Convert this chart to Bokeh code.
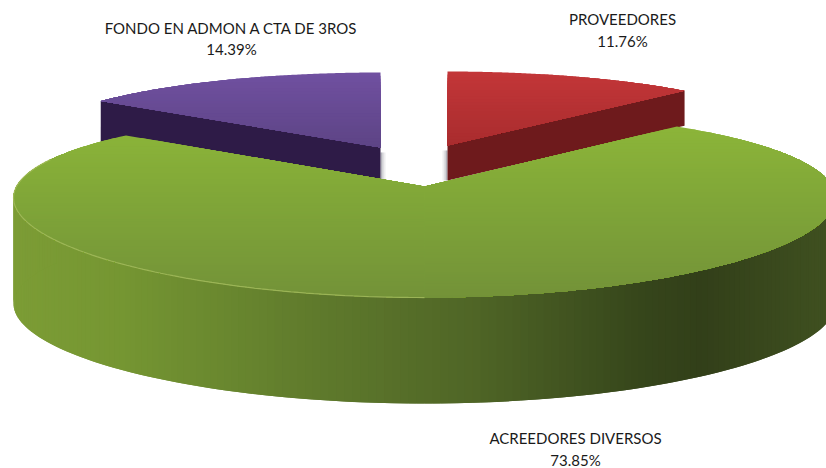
import numpy as np
from bokeh.plotting import figure
from bokeh.models import Range1d, ColumnDataSource
from bokeh.core.properties import value
from bokeh.embed import file_html
from bokeh.resources import INLINE

# data
categories = ["PROVEEDORES", "ACREEDORES DIVERSOS", "FONDO EN ADMON A CTA DE 3ROS"]
shares = [11.76, 73.85, 14.39]

# scene (pixel space, y down)
W, H = 826, 468
RED, GREEN, BLUE = 0, 1, 2
cum = np.cumsum([0] + shares) / sum(shares) * 2 * np.pi
geom = {
    RED:   dict(cx=447, cy=145, A=352, B=74, kx=0.0, ky=0.0, d=35),
    GREEN: dict(cx=424, cy=186, A=408, B=91.6, kx=0.12, ky=0.175, d=106),
    BLUE:  dict(cx=380, cy=147, A=356, B=75, kx=0.0, ky=0.0, d=42),
}

def pt(g, t):
    u, v = np.sin(t), np.cos(t)
    return g["cx"] + g["A"] * u / (1 + g["kx"] * v), g["cy"] - g["B"] * v / (1 + g["ky"] * v)

def mix(stops, x):
    xs = [s[0] for s in stops]
    rgb = [np.interp(x, xs, [int(s[1][i:i + 2], 16) for s in stops]) for i in (1, 3, 5)]
    return "#%02x%02x%02x" % tuple(int(round(c)) for c in rgb)

def clip_below(poly, y0):
    out = []
    for i in range(len(poly)):
        a, b = poly[i], poly[(i + 1) % len(poly)]
        ia, ib = a[1] >= y0, b[1] >= y0
        if ia:
            out.append(a)
        if ia != ib:
            f = (y0 - a[1]) / (b[1] - a[1])
            out.append((a[0] + f * (b[0] - a[0]), y0))
    return out

def arc_poly(i, t0, t1):
    g = geom[i]
    ts = np.linspace(t0, t1, 160)
    return [(g["cx"], g["cy"])] + [pt(g, t) for t in ts]

def add_grad(xs, ys, cs, poly, stops, n=40):
    yy = [q[1] for q in poly]
    edges = np.linspace(min(yy), max(yy), n + 1)[:-1]
    step = edges[1] - edges[0]
    for a in edges:
        part = clip_below(poly, a)
        if len(part) >= 3:
            xs.append([q[0] for q in part])
            ys.append([q[1] for q in part])
            cs.append(mix(stops, a + step / 2))

def add_wall(xs, ys, cs, i, t, color):
    g = geom[i]
    x1, y1 = g["cx"], g["cy"]
    x2, y2 = pt(g, t)
    xs.append([x1, x2, x2, x1])
    ys.append([y1, y2, y2 + g["d"], y1 + g["d"]])
    cs.append(color)

xs, ys, cs = [], [], []
add_wall(xs, ys, cs, BLUE, cum[2], "#2e1b47")
add_grad(xs, ys, cs, arc_poly(BLUE, cum[2], cum[3]), [(73, "#7050a0"), (147, "#5d4485")], 24)
add_wall(xs, ys, cs, RED, cum[1], "#6e1a1c")
add_grad(xs, ys, cs, arc_poly(RED, cum[0], cum[1]), [(73, "#c23638"), (145, "#a92c2e")], 24)

# green side wall: left-to-right colour ramp, each strip overlapping the next
g = geom[GREEN]
wall_stops = [(15, "#7c9c35"), (120, "#759632"), (316, "#5f7a2c"), (474, "#4f6526"),
              (640, "#36461b"), (700, "#323f19"), (826, "#3f5020")]
ts = np.radians(np.linspace(70, 290, 221))
for j in range(len(ts) - 1):
    a, b = ts[j], ts[min(j + 2, len(ts) - 1)]
    xa, ya = pt(g, a)
    xb, yb = pt(g, b)
    xm, _ = pt(g, ts[j + 1])
    xs.append([xa, xb, xb, xa])
    ys.append([ya, yb, yb + g["d"], ya + g["d"]])
    cs.append(mix(wall_stops, (xa + xm) / 2))

# green top, split at the front so each half has no notch to bridge
top_stops = [(125, "#8cb539"), (200, "#80a638"), (297, "#739238")]
add_grad(xs, ys, cs, arc_poly(GREEN, cum[1], np.pi), top_stops, 60)
add_grad(xs, ys, cs, arc_poly(GREEN, np.pi, cum[2]), top_stops, 60)

p = figure(width=W, height=H, x_range=Range1d(0, W), y_range=Range1d(H, 0),
           output_backend="svg", toolbar_location=None, min_border=0,
           outline_line_color=None, background_fill_color="white", border_fill_color="white")
p.axis.visible = False
p.grid.visible = False

for i, sgn in ((BLUE, 1), (RED, -1)):
    gi = geom[i]
    for w, al in ((5, 0.10), (3, 0.18), (1.5, 0.25)):
        p.quad(left=[min(gi["cx"], gi["cx"] + sgn * w)], right=[max(gi["cx"], gi["cx"] + sgn * w)],
               top=[gi["cy"] + 5], bottom=[gi["cy"] + gi["d"] - (4 if i == BLUE else 0)],
               fill_color="#555566", fill_alpha=al, line_color=None)

src = ColumnDataSource(dict(xs=xs, ys=ys, c=cs))
p.patches("xs", "ys", source=src, fill_color="c", line_color=None)

rim_t = np.radians(np.linspace(180, 288, 110))
rim = [pt(g, t) for t in rim_t]
p.line([q[0] for q in rim], [q[1] for q in rim], line_color="#a8bf62", line_width=1.2, line_alpha=0.75)

label_pos = {RED: (622, 18, 40), GREEN: (575, 437, 459), BLUE: (231, 27, 48)}
tx, ty, tt = [], [], []
for i, name in enumerate(categories):
    x, y1, y2 = label_pos[i]
    tx += [x, x]
    ty += [y1, y2]
    tt += [name, f"{shares[i]:.2f}%"]
p.text(tx, ty, text=tt, text_font=value("Lato"), text_font_size="15px", text_color="#1a1a1a",
       text_align="center", text_baseline="middle")

open("out.html", "w").write(file_html(p, INLINE))
